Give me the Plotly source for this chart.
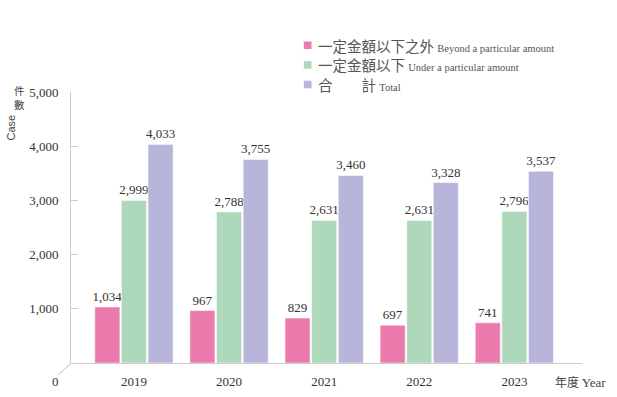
import plotly.graph_objects as go

years = ["2019", "2020", "2021", "2022", "2023"]
beyond = [1034, 967, 829, 697, 741]
under = [2999, 2788, 2631, 2631, 2796]
total = [4033, 3755, 3460, 3328, 3537]
y_ticks = [1000, 2000, 3000, 4000, 5000]

names_zh = ["一定金額以下之外", "一定金額以下", "合　　計"]
names_en = ["Beyond a particular amount", "Under a particular amount", "Total"]
colors = ["#EB7BAD", "#ADD8BA", "#B8B5DA"]

W, H = 617, 397
L, R, T, B = 71, 35, 92, 34
PW, PH = W - L - R, H - T - B

def px_x(p):
    return (p - L) / PW

def px_y(p):
    return (H - B - p) / PH

SERIF = "Liberation Serif"
CJK = "Noto Sans CJK TC"

fig = go.Figure()
for vals, zh, en, col in zip([beyond, under, total], names_zh, names_en, colors):
    fig.add_trace(go.Bar(
        x=years, y=vals, name=f"{zh} {en}",
        marker=dict(color=col, line=dict(color="white", width=0.5)),
        text=[f"{v:,}" for v in vals], textposition="outside",
        constraintext="none",
        textfont=dict(family=SERIF, size=13, color="#333333"),
        cliponaxis=False, showlegend=False,
    ))

fig.update_layout(
    width=W, height=H,
    margin=dict(l=L, r=R, t=T, b=B, autoexpand=False),
    plot_bgcolor="white", paper_bgcolor="white",
    barmode="group", bargap=0.16, bargroupgap=0.06,
    font=dict(family=SERIF, size=13, color="#333333"),
    showlegend=False,
    xaxis=dict(
        type="category", range=[-0.662, 4.711],
        showline=True, linecolor="#cccccc", linewidth=1,
        ticks="", ticklabelstandoff=6, showgrid=False, automargin=False,
        tickfont=dict(family=SERIF, size=13, color="#333333"),
    ),
    yaxis=dict(
        range=[0, 5000], tickvals=y_ticks, tickformat=",",
        showline=True, linecolor="#cccccc", linewidth=1,
        ticks="inside", ticklen=7, tickcolor="#cccccc", automargin=False,
        ticklabelstandoff=9, showgrid=False, zeroline=False,
        tickfont=dict(family=SERIF, size=13, color="#333333"),
    ),
)

def note(text, x, y, size, family, color="#444444", xanchor="center", angle=0):
    fig.add_annotation(text=text, xref="paper", yref="paper", x=px_x(x), y=px_y(y),
                       xanchor=xanchor, yanchor="middle", showarrow=False,
                       textangle=angle, font=dict(family=family, size=size, color=color))

# manual legend
for i, (zh, en, col) in enumerate(zip(names_zh, names_en, colors)):
    cy = 45.3 + 19.6 * i
    fig.add_shape(type="rect", xref="paper", yref="paper",
                  x0=px_x(303.8), x1=px_x(311.5), y0=px_y(cy - 3.8), y1=px_y(cy + 3.8),
                  fillcolor=col, line=dict(width=0))
    note(f"{zh} <span style='font-family:\"Liberation Serif\";font-size:10.5px'>{en}</span>",
         316, cy, 14.5, CJK, "#555555", xanchor="left")

fig.add_shape(type="line", xref="paper", yref="paper",
              x0=px_x(70.7), y0=px_y(363.3), x1=px_x(58.3), y1=px_y(375),
              line=dict(color="#bbbbbb", width=1))
note("0", 55.7, 381, 13, SERIF, "#333333")
note("件<br>數", 19.5, 97.3, 10.5, CJK)
note("Case", 10.5, 128, 11, "Liberation Sans Narrow, Liberation Sans", angle=-90)
note("年度 <span style='font-family:\"Liberation Serif\";font-size:13px'>Year</span>",
     553, 381, 12, CJK, xanchor="left")

fig.write_html("out.html", post_script="document.body.style.margin='0';",
               config={"displayModeBar": False})
